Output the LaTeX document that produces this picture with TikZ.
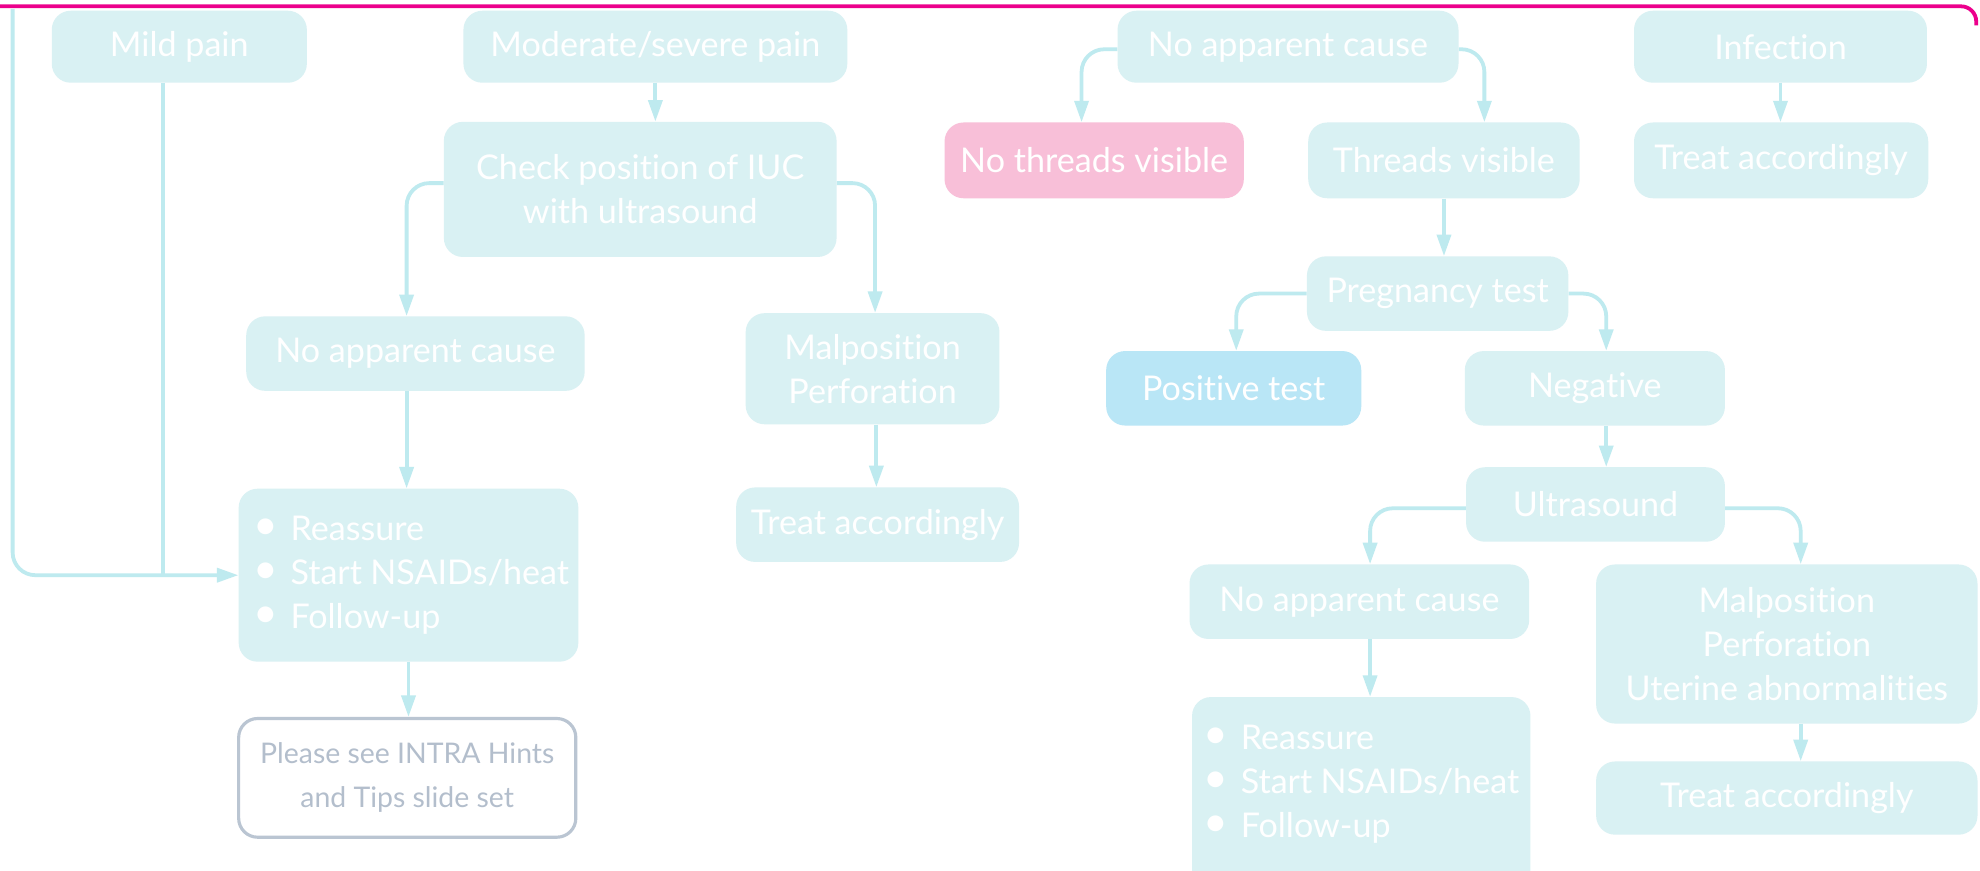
\documentclass[tikz,border=0pt]{standalone}
\usepackage{fontspec}
\setmainfont{Lato}[Ligatures=NoCommon]
\usetikzlibrary{arrows.meta}
\definecolor{boxfill}{HTML}{D9F1F3}
\definecolor{arrowc}{HTML}{BEEAEF}
\definecolor{pinkfill}{HTML}{F8BFD8}
\definecolor{posfill}{HTML}{B9E6F6}
\definecolor{magline}{HTML}{EC008C}
\definecolor{grayline}{HTML}{BAC5D2}
\definecolor{graytext}{HTML}{B3BECC}
\newcommand\fbig{\fontsize{27}{35}\selectfont}
\newcommand\fsmall{\fontsize{22.5}{35}\selectfont}
\newcommand\bul{\raisebox{1pt}{\scalebox{1.25}{•}}\hspace{10pt}}
\tikzset{
  box/.style={rounded corners=15pt, fill=boxfill, text=white, font=\fbig, align=center, inner sep=0pt},
  bulbox/.style={box, align=left},
  notebox/.style={rounded corners=15pt, draw=grayline, line width=2.5pt, fill=white, text=graytext, font=\fsmall, align=center, inner sep=0pt},
  conn/.style={draw=arrowc, line width=3pt, rounded corners=18pt, -{Triangle[length=17pt,width=11pt]}},
  plainline/.style={draw=arrowc, line width=3pt, rounded corners=18pt},
}
\begin{document}
\begin{tikzpicture}[x=1pt,y=-1pt]
\useasboundingbox (0,0) rectangle (1568,689);
\fill[white] (0,0) rectangle (1568,689);
% top magenta border
\draw[magline, line width=3pt, rounded corners=12pt] (-5,5) -| (1565,20);
% left column
\node[box, minimum width=202pt, minimum height=57pt] (mild) at (142,37) {Mild pain};
\node[box, minimum width=304pt, minimum height=57pt] (mod) at (519,37) {Moderate/severe pain};
\node[box, minimum width=311pt, minimum height=107pt] (check) at (507,150) {Check position of IUC\\with ultrasound};
\node[box, minimum width=268pt, minimum height=59pt] (nac1) at (329,280) {No apparent cause};
\node[box, minimum width=201pt, minimum height=88pt] (mal1) at (691,292) {Malposition\\Perforation};
\node[bulbox, minimum width=269pt, minimum height=137pt] (bul1) at (323.5,455.5) {\hspace{4pt}\parbox{250pt}{\raggedright\fbig \bul Reassure\\\bul Start NSAIDs/heat\\\bul Follow-up}};
\node[box, minimum width=224pt, minimum height=59pt] (treat1) at (695,415.5) {Treat accordingly};
\node[notebox, minimum width=267pt, minimum height=94pt] (please) at (322.5,616) {Please see INTRA Hints\\and Tips slide set};
% right part
\node[box, minimum width=270pt, minimum height=57pt] (nac2) at (1020,37) {No apparent cause};
\node[box, fill=pinkfill, minimum width=237pt, minimum height=60pt] (nothreads) at (866.5,127) {No threads visible};
\node[box, minimum width=215pt, minimum height=60pt] (threads) at (1143.5,127) {Threads visible};
\node[box, minimum width=232pt, minimum height=57pt] (infection) at (1410,37) {Infection};
\node[box, minimum width=233pt, minimum height=60pt] (treat2) at (1410.5,127) {Treat accordingly};
\node[box, minimum width=207pt, minimum height=59pt] (preg) at (1138.5,232.5) {Pregnancy test};
\node[box, fill=posfill, minimum width=202pt, minimum height=59pt] (pos) at (977,307.5) {Positive test};
\node[box, minimum width=206pt, minimum height=59pt] (neg) at (1263,307.5) {Negative};
\node[box, minimum width=205pt, minimum height=59pt] (ultra) at (1263.5,399.5) {Ultrasound};
\node[box, minimum width=269pt, minimum height=59pt] (nac3) at (1076.5,476.5) {No apparent cause};
\node[bulbox, minimum width=268pt, minimum height=152pt] (bul2) at (1078,628) {\parbox[c][152pt][t]{250pt}{\raggedright\fbig\vspace*{22pt}\bul Reassure\\\bul Start NSAIDs/heat\\\bul Follow-up}};
\node[box, minimum width=302pt, minimum height=126pt] (mal2) at (1415,510) {Malposition\\Perforation\\Uterine abnormalities};
\node[box, minimum width=302pt, minimum height=58pt] (treat3) at (1415,632) {Treat accordingly};
% connectors left
\coordinate (loopstart) at (10,7);
\draw[conn] (loopstart) |- (bul1.west);
\draw[plainline] ([xshift=-13pt]mild.south) -- ([xshift=-13pt]mild.south |- bul1.west);
\draw[conn] (mod.south) -- (mod.south |- check.north);
\draw[conn] ([yshift=5pt]check.west) -| ([xshift=-7pt]nac1.north);
\draw[conn] ([yshift=5pt]check.east) -| ([xshift=2pt]mal1.north);
\draw[conn] ([xshift=-7pt]nac1.south) -- ([xshift=-7pt]nac1.south |- bul1.north);
\draw[conn] ([xshift=3pt]mal1.south) -- ([xshift=3pt]mal1.south |- treat1.north);
\draw[conn] (bul1.south) -- (bul1.south |- please.north);
% connectors right
\draw[conn] ([yshift=-2pt]nac2.west) -| ([xshift=-10pt]nothreads.north);
\draw[conn] ([yshift=-2pt]nac2.east) -| ([xshift=32pt]threads.north);
\draw[conn] (infection.south) -- (infection.south |- treat2.north);
\draw[conn] (threads.south) -- (threads.south |- preg.north);
\draw[conn] (preg.west) -| ([xshift=2pt]pos.north);
\draw[conn] (preg.east) -| ([xshift=9pt]neg.north);
\draw[conn] ([xshift=9pt]neg.south) -- ([xshift=9pt]neg.south |- ultra.north);
\draw[conn] ([yshift=-3pt]ultra.west) -| ([xshift=8.5pt]nac3.north);
\draw[conn] ([yshift=-3pt]ultra.east) -| ([xshift=11pt]mal2.north);
\draw[conn] ([xshift=8.5pt]nac3.south) -- ([xshift=8.5pt]nac3.south |- bul2.north);
\draw[conn] ([xshift=11pt]mal2.south) -- ([xshift=11pt]mal2.south |- treat3.north);
\end{tikzpicture}
\end{document}
